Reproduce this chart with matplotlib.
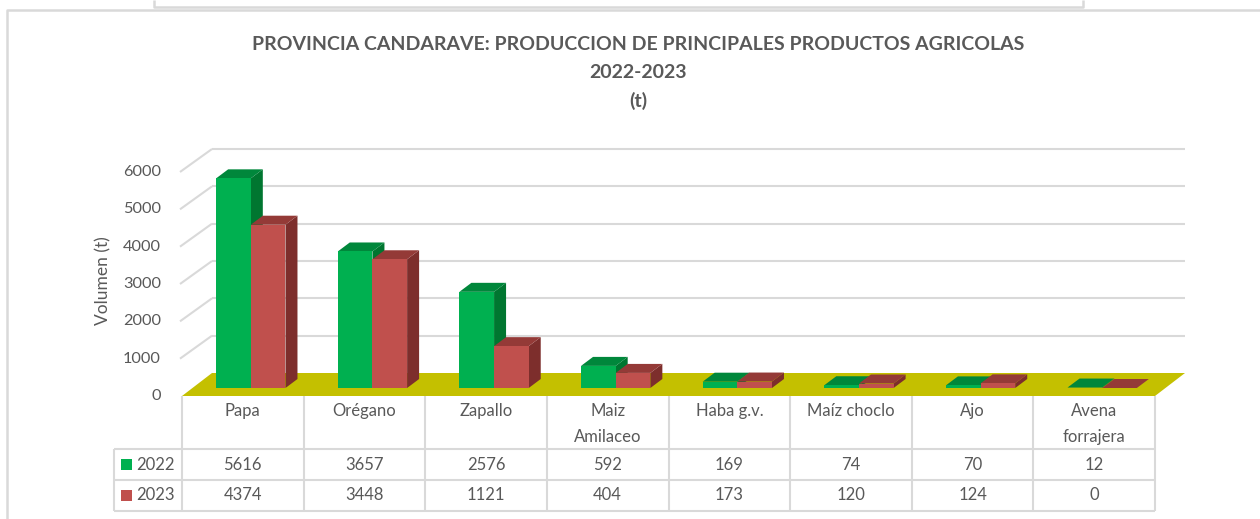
import matplotlib
matplotlib.use("Agg")
import matplotlib.pyplot as plt
import numpy as np
from matplotlib.patches import Polygon, Rectangle
from matplotlib.lines import Line2D
from matplotlib.transforms import IdentityTransform

# ---------------- data ----------------
categories = ["Papa", "Orégano", "Zapallo", "Maiz\nAmilaceo", "Haba g.v.",
              "Maíz choclo", "Ajo", "Avena\nforrajera"]
series_names = ["2022", "2023"]
values_2022 = [5616, 3657, 2576, 592, 169, 74, 70, 12]
values_2023 = [4374, 3448, 1121, 404, 173, 120, 124, 0]
y_ticks = [0, 1000, 2000, 3000, 4000, 5000, 6000]
title = "PROVINCIA CANDARAVE: PRODUCCION DE PRINCIPALES PRODUCTOS AGRICOLAS\n2022-2023\n(t)"
y_label = "Volumen (t)"

# ---------------- style ----------------
FONT = "Lato"
TXT = "#595959"
GRID = "#D9D9D9"
FLOOR = "#C4C000"
COLORS = {
    "2022": dict(front="#00B050", top="#00873B", side="#007630"),
    "2023": dict(front="#C0504D", top="#943A37", side="#7D2E2C"),
}

W, H = 1260, 519
fig = plt.figure(figsize=(W / 100, H / 100), dpi=100)
fig.patch.set_facecolor("white")

def fx(px):
    return px / W

def fy(py_top):
    return (H - py_top) / H

# front plane of the plot: x 182..1155, y(0)=396, y(6000)=172 (pixels from top)
ax = fig.add_axes([fx(182), fy(396), (1155 - 182) / W, (396 - 172) / H])
ax.set_xlim(-0.5, len(categories) - 0.5)
ax.set_ylim(0, 6000)
ax.axis("off")

ident = IdentityTransform()
DEPTH = np.array([30.0, 23.0])      # full depth of the floor (px)
BAR_OFF = np.array([8.0, 8.0])      # bar front face offset (px)
BAR_DEP = np.array([12.0, 9.0])     # bar depth (px)
BAR_W = 0.285

fig.canvas.draw()

def P(x, v, off=(0.0, 0.0)):
    p = ax.transData.transform((x, v))
    return (p[0] + off[0], p[1] + off[1])

def poly(pts, color, z, lw=0.0, ec=None):
    fig.add_artist(Polygon(pts, closed=True, facecolor=color, edgecolor=ec or color,
                           linewidth=lw, transform=ident, zorder=z))

def line(pts, color, lw, z):
    xs = [p[0] for p in pts]
    ys = [p[1] for p in pts]
    fig.add_artist(Line2D(xs, ys, color=color, linewidth=lw, transform=ident,
                          zorder=z, solid_capstyle="butt"))

x0, x1 = -0.5, len(categories) - 0.5

# back wall + side wall gridlines
for t in y_ticks[1:]:
    line([P(x0, t, DEPTH), P(x1, t, DEPTH)], GRID, 1.5, 1)
    line([P(x0, t, (-2, 0)), P(x0, t, DEPTH)], GRID, 1.5, 1)

# floor
poly([P(x0, 0), P(x1, 0), P(x1, 0, DEPTH), P(x0, 0, DEPTH)], FLOOR, 2)

# bars
def bar3d(xc, v, cols, z):
    xl, xr = xc - BAR_W / 2, xc + BAR_W / 2
    bl = P(xl, 0, BAR_OFF)
    br = P(xr, 0, BAR_OFF)
    tl = P(xl, v, BAR_OFF)
    tr = P(xr, v, BAR_OFF)
    d = BAR_DEP
    poly([br, tr, (tr[0] + d[0], tr[1] + d[1]), (br[0] + d[0], br[1] + d[1])], cols["side"], z)
    poly([tl, tr, (tr[0] + d[0], tr[1] + d[1]), (tl[0] + d[0], tl[1] + d[1])], cols["top"], z)
    if v > 0:
        poly([bl, br, tr, tl], cols["front"], z)

z = 3
for i in range(len(categories)):
    bar3d(i - BAR_W / 2, values_2022[i], COLORS["2022"], z)
    z += 1
    bar3d(i + BAR_W / 2, values_2023[i], COLORS["2023"], z)
    z += 1

# y tick labels
for t in y_ticks:
    px, py = P(x0, t)
    fig.text((px - 21) / W, py / H, str(t), ha="right", va="center",
             fontsize=11.8, color=TXT, family=FONT)

fig.text(fx(103), fy(281), y_label, rotation=90, ha="center", va="center",
         fontsize=12.5, color=TXT, family=FONT)

# title
fig.text(fx(638), fy(36), title, ha="center", va="top", fontsize=14, fontweight="bold",
         color=TXT, family=FONT, linespacing=1.75)

# ---------------- data table ----------------
row_tops = [396, 449, 480, 511]
LEG_L = 114
cell_edges = [P(i - 0.5, 0)[0] for i in range(len(categories) + 1)]
for xe in cell_edges:
    line([(xe, H - 396), (xe, H - 511)], GRID, 1.5, 1)
line([(LEG_L, H - 449), (LEG_L, H - 511)], GRID, 1.5, 1)
for yt in row_tops[1:]:
    line([(LEG_L, H - yt), (cell_edges[-1], H - yt)], GRID, 1.5, 1)

for i, c in enumerate(categories):
    xc = (cell_edges[i] + cell_edges[i + 1]) / 2
    fig.text(xc / W, fy(403), c, ha="center", va="top", fontsize=12, color=TXT,
             family=FONT, linespacing=1.75)

for r, (name, vals) in enumerate(zip(series_names, [values_2022, values_2023])):
    yc = (row_tops[r + 1] + row_tops[r + 2]) / 2
    fig.add_artist(Rectangle((121, H - yc - 5.5), 11, 11, facecolor=COLORS[name]["front"],
                             edgecolor="none", transform=ident, zorder=5))
    fig.text(fx(136), fy(yc), name, ha="left", va="center", fontsize=12, color=TXT, family=FONT)
    for i, v in enumerate(vals):
        xc = (cell_edges[i] + cell_edges[i + 1]) / 2
        fig.text(xc / W, fy(yc), str(v), ha="center", va="center", fontsize=12,
                 color=TXT, family=FONT)

# chart border and top box remnant
line([(7, 0), (7, H - 10), (W, H - 10)], GRID, 1.8, 1)
line([(154, H), (154, H - 7), (1083, H - 7), (1083, H)], GRID, 1.8, 1)

fig.savefig("out.png", dpi=100, facecolor="white")
